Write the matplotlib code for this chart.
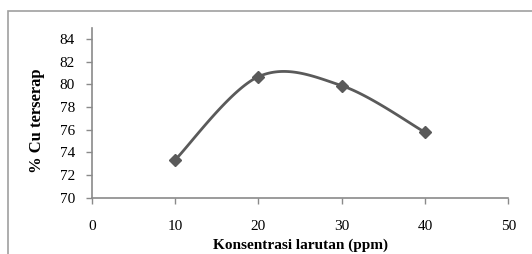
import numpy as np
import matplotlib
matplotlib.use("Agg")
import matplotlib.pyplot as plt
from matplotlib.patches import Rectangle

# data
konsentrasi = [10, 20, 30, 40]
cu_terserap = [73.31, 80.67, 79.88, 75.76]
x_ticks = [0, 10, 20, 30, 40, 50]
y_ticks = [70, 72, 74, 76, 78, 80, 82, 84]

line_color = "#5a5a5a"
axis_color = "#8a8a8a"
plt.rcParams["font.family"] = ["Liberation Serif", "DejaVu Serif"]


def excel_smooth(xs, ys, n=40):
    # bezier segments like the smoothed line in a spreadsheet chart
    pts = np.column_stack([xs, ys]).astype(float)
    ext = np.vstack([pts[0], pts, pts[-1]])
    out = []
    for i in range(len(pts) - 1):
        p0, p3 = ext[i + 1], ext[i + 2]
        c1 = p0 + (ext[i + 2] - ext[i]) / 6
        c2 = p3 - (ext[i + 3] - ext[i + 1]) / 6
        t = np.linspace(0, 1, n)[:, None]
        seg = (1 - t) ** 3 * p0 + 3 * (1 - t) ** 2 * t * c1 + 3 * (1 - t) * t ** 2 * c2 + t ** 3 * p3
        out.append(seg)
    out = np.vstack(out)
    return out[:, 0], out[:, 1]


fig = plt.figure(figsize=(5.32, 2.54), dpi=100)
fig.patches.append(Rectangle((8 / 532, -0.1), 1.2, 1 - 11 / 254 + 0.1,
                             transform=fig.transFigure, fill=False,
                             edgecolor="#a0a0a0", linewidth=1.2))

ax = fig.add_axes([91.7 / 532, 1 - 197.5 / 254, (508.3 - 91.7) / 532, (197.5 - 27.7) / 254])

sx, sy = excel_smooth(konsentrasi, cu_terserap)
ax.plot(sx, sy, color=line_color, linewidth=2)
ax.plot(konsentrasi, cu_terserap, linestyle="none", marker="D", markersize=6.5,
        color=line_color)

ax.set_xlim(0, 50)
ax.set_ylim(70, 85)
ax.set_xticks(x_ticks)
ax.set_yticks(y_ticks)
for s in ["top", "right"]:
    ax.spines[s].set_visible(False)
for s in ["left", "bottom"]:
    ax.spines[s].set_color(axis_color)
    ax.spines[s].set_linewidth(1.2)
ax.tick_params(direction="out", length=4, width=1, color=axis_color,
               labelsize=11, labelcolor="black")
ax.tick_params(axis="y", pad=8)
ax.tick_params(axis="x", pad=12)

ax.set_xlabel("Konsentrasi larutan (ppm)", fontsize=11, fontweight="bold", labelpad=4)
ax.set_ylabel("% Cu terserap", fontsize=12, fontweight="bold")
ax.yaxis.set_label_coords(-0.112, 0.45)

fig.savefig("out.png", dpi=100)
